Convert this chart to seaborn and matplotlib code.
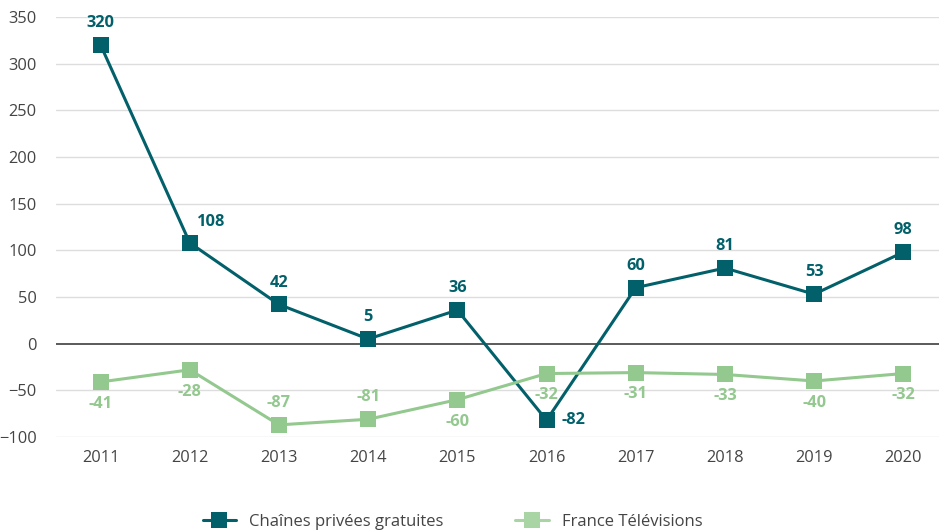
import matplotlib
matplotlib.use("Agg")
import matplotlib.pyplot as plt
import seaborn as sns
import pandas as pd

years = ["2011", "2012", "2013", "2014", "2015", "2016", "2017", "2018", "2019", "2020"]
prive = [320, 108, 42, 5, 36, -82, 60, 81, 53, 98]
ftv = [-41, -28, -87, -81, -60, -32, -31, -33, -40, -32]
series_names = ["Chaînes privées gratuites", "France Télévisions"]

sns.set_theme(style="white")
plt.rcParams['font.family'] = ['Open Sans', 'DejaVu Sans']

dark = "#02606A"
light = "#93C88F"

df = pd.DataFrame({
    "x": list(range(len(years))) * 2,
    "value": prive + ftv,
    "serie": [series_names[0]] * len(years) + [series_names[1]] * len(years),
})

fig = plt.figure(figsize=(9.39, 5.30), dpi=100)
ax = fig.add_axes([56/939, 1-437/530, 1-56/939, (437-17)/530])

for y in range(-100, 351, 50):
    if y == 0:
        ax.axhline(0, color="#4d4d4d", lw=1.3, zorder=1)
    else:
        ax.axhline(y, color="#dddddd", lw=1, zorder=0)

sns.lineplot(data=df, x="x", y="value", hue="serie", palette=[dark, light],
             marker="s", markersize=11, markeredgewidth=0, linewidth=2.2,
             ax=ax, legend=False, zorder=3)

fs = 11.8
for i, v in enumerate(prive):
    if v == -82:
        ax.annotate(str(v), (i, v), xytext=(11, 0), textcoords="offset points",
                    ha="left", va="center", color=dark, fontweight="bold", fontsize=fs)
    elif years[i] == "2012":
        ax.annotate(str(v), (i, v), xytext=(5, 9), textcoords="offset points",
                    ha="left", va="bottom", color=dark, fontweight="bold", fontsize=fs)
    else:
        ax.annotate(str(v), (i, v), xytext=(0, 10), textcoords="offset points",
                    ha="center", va="bottom", color=dark, fontweight="bold", fontsize=fs)
for i, v in enumerate(ftv):
    if years[i] in ("2013", "2014"):
        ax.annotate(str(v), (i, v), xytext=(0, 10), textcoords="offset points",
                    ha="center", va="bottom", color=light, fontweight="bold", fontsize=fs)
    else:
        ax.annotate(str(v), (i, v), xytext=(0, -10), textcoords="offset points",
                    ha="center", va="top", color=light, fontweight="bold", fontsize=fs)

ax.set_xlim(-0.5, 9.4)
ax.set_ylim(-100, 350)
ax.set_xticks(range(len(years)))
ax.set_xticklabels(years)
ax.set_yticks(range(-100, 351, 50))
ax.tick_params(axis="both", labelsize=11.8, colors="#444444", length=0)
ax.tick_params(axis="y", pad=14)
ax.tick_params(axis="x", pad=9)
ax.set_xlabel("")
ax.set_ylabel("")
for s in ax.spines.values():
    s.set_visible(False)

from matplotlib.lines import Line2D
handles = [Line2D([0], [0], color=dark, marker="s", markersize=11, lw=2.2, markeredgewidth=0),
           Line2D([0], [0], color="#A9D5A4", marker="s", markersize=11, lw=2.2, markeredgewidth=0)]
fig.legend(handles, series_names, loc="lower center", bbox_to_anchor=(0.482, -0.028), ncol=2,
           frameon=False, fontsize=12, columnspacing=4.3, handlelength=2.0, handletextpad=0.8,
           labelcolor="#444444")

fig.savefig("out.png", dpi=100)
